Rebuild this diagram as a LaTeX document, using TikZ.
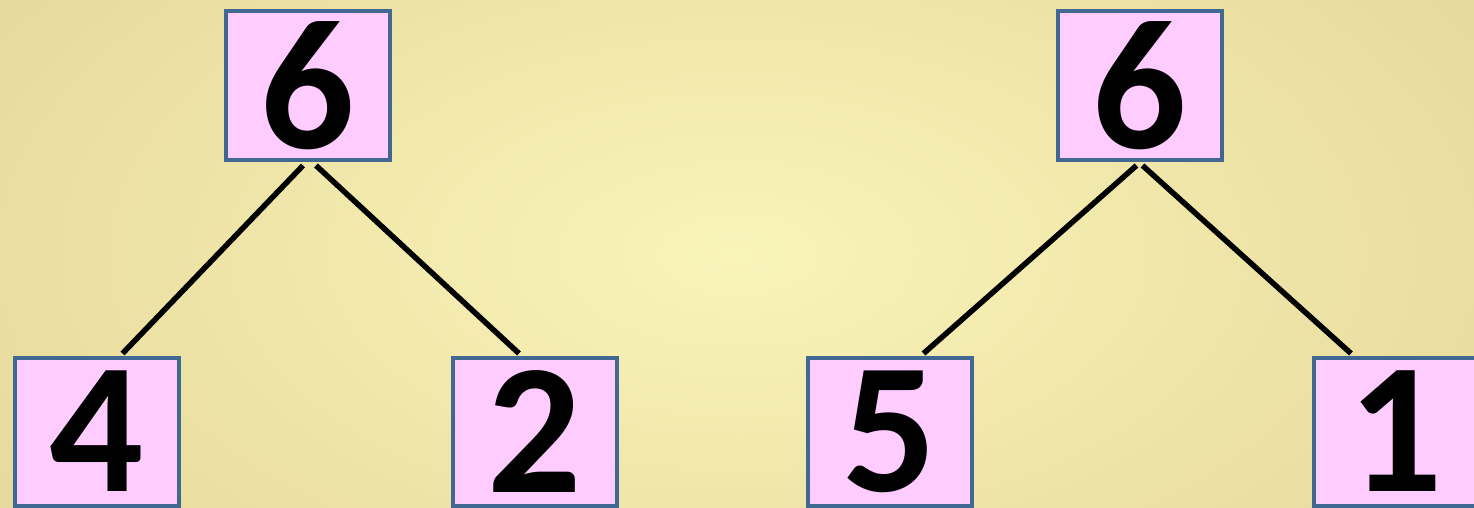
\documentclass[tikz,border=0pt]{standalone}
\usepackage{fontspec}
\setmainfont{Carlito}
\usetikzlibrary{calc}
\definecolor{bgin}{HTML}{F9F4B9}
\definecolor{bgout}{HTML}{E8DA9C}
\definecolor{boxfill}{HTML}{FFCCFF}
\definecolor{boxline}{HTML}{416893}
\tikzset{
  numbox/.style={draw=boxline, fill=boxfill, line width=4pt, inner sep=0pt,
    minimum width=164pt, minimum height=148pt,
    font=\fontsize{186}{186}\selectfont\bfseries},
  edge/.style={draw=black, line width=5.5pt}
}
\begin{document}
\begin{tikzpicture}[x=1pt,y=-1pt]
\useasboundingbox (0,0) rectangle (1474,508);
\clip (0,0) rectangle (1474,508);
\shade[inner color=bgin, outer color=bgout] (-120,-200) rectangle (1594,708);
\node[numbox] (t1) at (308,85.5) {6};
\node[numbox] (t2) at (1139.5,85.5) {6};
\node[numbox] (b4) at (96.5,431.5) {4};
\node[numbox] (b2) at (535,431.5) {2};
\node[numbox] (b5) at (889.5,431.5) {5};
\node[numbox] (b1) at (1396,431.5) {1};
\draw[edge] ($(t1.south)+(-5,4)$) -- ($(b4.north)+(26,-2)$);
\draw[edge] ($(t1.south)+(8,4)$) -- ($(b2.north)+(-16,-2)$);
\draw[edge] ($(t2.south)+(-3,4)$) -- ($(b5.north)+(34,-2)$);
\draw[edge] ($(t2.south)+(3,4)$) -- ($(b1.north)+(-45,-2)$);
\end{tikzpicture}
\end{document}
